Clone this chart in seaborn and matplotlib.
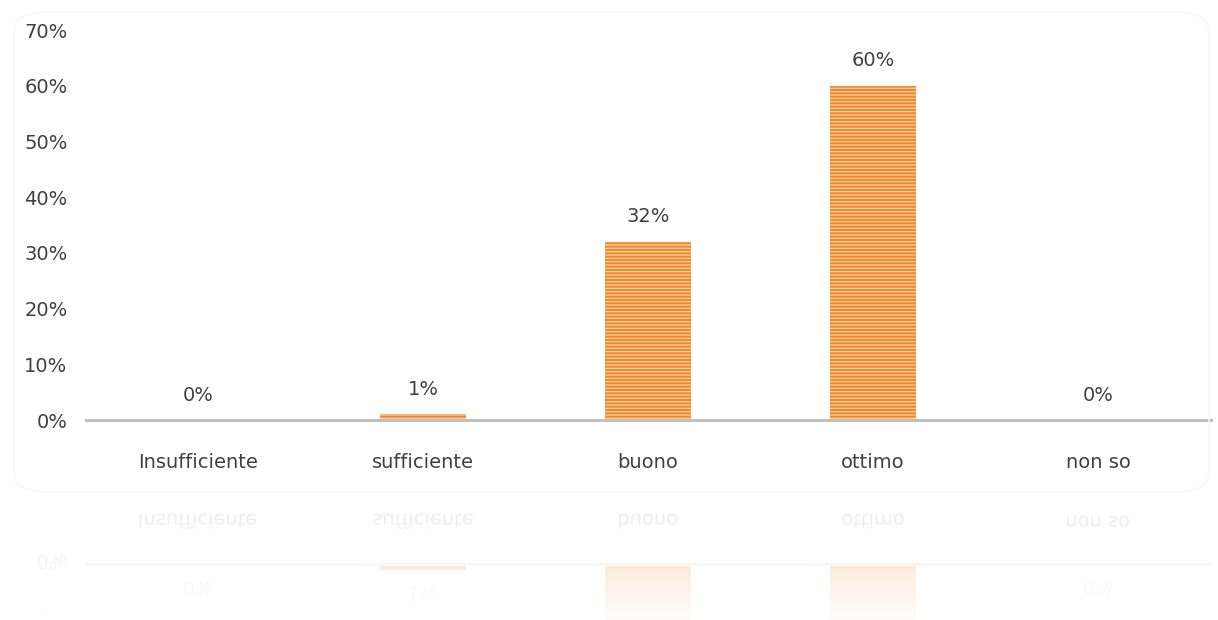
"""
Giudizio complessivo - bar chart with a faint mirrored reflection underneath
"""
import numpy as np
import matplotlib
matplotlib.use("Agg")
import matplotlib.pyplot as plt
import matplotlib.transforms as mtransforms
import seaborn as sns
from matplotlib.textpath import TextPath
from matplotlib.patches import PathPatch, FancyBboxPatch
from matplotlib.font_manager import FontProperties
from matplotlib.ticker import PercentFormatter

categories = ["Insufficiente", "sufficiente", "buono", "ottimo", "non so"]
values = [0.0, 0.01, 0.32, 0.60, 0.0]
value_labels = ["0%", "1%", "32%", "60%", "0%"]
y_ticks = [0.0, 0.1, 0.2, 0.3, 0.4, 0.5, 0.6, 0.7]

ORANGE = "#F0892A"
STRIPE = "#FCD2A6"
TEXT = "#404040"
AXIS_GRAY = "#BFBFBF"

sns.set_theme(style="white")
plt.rcParams["font.family"] = ["DejaVu Sans"]
plt.rcParams["hatch.linewidth"] = 0.9

DPI = 100
W, H = 1218, 620
fig = plt.figure(figsize=(W / DPI, H / DPI), dpi=DPI)
fig.patch.set_facecolor("white")

# faint rounded frame around the chart
frame = FancyBboxPatch((14 / W, 128 / H), 1195 / W, 480 / H,
                       boxstyle="round,pad=0,rounding_size=0.03",
                       transform=fig.transFigure, fc="none", ec="#F7F7F7", lw=1.2)
fig.add_artist(frame)

# main axes: x from px 85.5 to 1210.5, y=0 at px 420, 70% at px 30
ax = fig.add_axes([85.5 / W, (H - 420) / H, 1125 / W, 390 / H])
sns.barplot(x=categories, y=values, color=ORANGE, width=0.38, ax=ax,
            saturation=1, edgecolor=STRIPE, linewidth=0)
for p in ax.patches:
    p.set_hatch("-----")
ax.set_ylim(0, 0.7)
ax.set_xlim(-0.5, 4.5)
ax.set_yticks(y_ticks)
ax.yaxis.set_major_formatter(PercentFormatter(1.0, decimals=0))
ax.tick_params(axis="y", labelsize=14, labelcolor=TEXT, length=0, pad=13)
ax.tick_params(axis="x", labelsize=14, labelcolor=TEXT, length=0, pad=24)
ax.set_xlabel("")
ax.set_ylabel("")
for side in ["top", "right", "left"]:
    ax.spines[side].set_visible(False)
ax.spines["bottom"].set_color(AXIS_GRAY)
ax.spines["bottom"].set_linewidth(2.2)
ax.patch.set_alpha(0)
ax.bar_label(ax.containers[0], labels=value_labels, padding=11,
             fontsize=14, color=TEXT)

# reflection axes, mirrored around px 492 from the top
mirror_y = H - 492
refl = fig.add_axes([85.5 / W, (H - 564 - 390) / H, 1125 / W, 390 / H])
sns.barplot(x=categories, y=values, color=ORANGE, width=0.38, ax=refl,
            saturation=1, edgecolor=STRIPE, linewidth=0, alpha=0.4)
for p in refl.patches:
    p.set_hatch("-----")
refl.set_ylim(0.7, 0)
refl.set_xlim(-0.5, 4.5)
refl.set_xticks([])
refl.set_yticks([])
refl.set_xlabel("")
refl.set_ylabel("")
for side in ["bottom", "right", "left"]:
    refl.spines[side].set_visible(False)
refl.spines["top"].set_color("#EDEDED")
refl.spines["top"].set_linewidth(2.2)
refl.patch.set_alpha(0)

# mirrored copies of the texts (flipped upside down, not reversed)
fig.canvas.draw()
renderer = fig.canvas.get_renderer()
k = DPI / 72.0
texts = [t for t in ax.get_xticklabels() + ax.get_yticklabels() + ax.texts
         if t.get_text() and t.get_visible()]
for t in texts:
    bb = t.get_window_extent(renderer)
    if bb.y0 > mirror_y + 200:
        continue
    tp = TextPath((0, 0), t.get_text(), size=t.get_fontsize(),
                  prop=FontProperties(family="DejaVu Sans"))
    ext = tp.get_extents()
    cx, cy = (ext.x0 + ext.x1) / 2, (ext.y0 + ext.y1) / 2
    mx = (bb.x0 + bb.x1) / 2
    my = 2 * mirror_y - (bb.y0 + bb.y1) / 2
    tr = (mtransforms.Affine2D().translate(-cx, -cy).scale(k, -k)
          .translate(mx, my))
    fig.add_artist(PathPatch(tp, transform=tr, fc=TEXT, ec="none", alpha=0.12))

# fade the reflection out towards the bottom
fade = fig.add_axes([0, 0, 1, 130 / H], zorder=10)
grad = np.linspace(0.1, 0.95, 100)[:, None]
rgba = np.ones((100, 2, 4))
rgba[:, :, 3] = grad
fade.imshow(rgba, aspect="auto", extent=[0, 1, 1, 0])
fade.set_axis_off()

fig.savefig("out.png", dpi=DPI, facecolor="white")
